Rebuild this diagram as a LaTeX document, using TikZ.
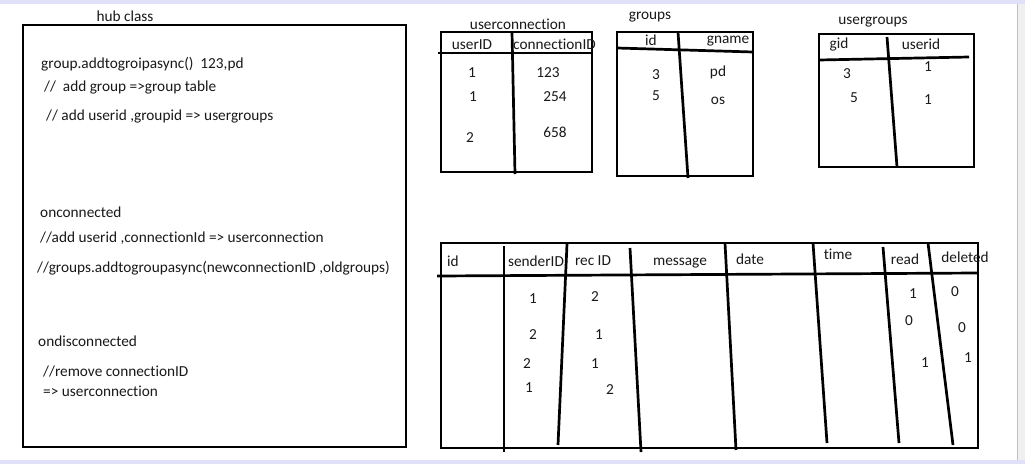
\documentclass[tikz,border=0pt]{standalone}
\usepackage{fontspec}
\setmainfont{Carlito}[Ligatures={NoCommon}]
\begin{document}
\begin{tikzpicture}[x=1pt,y=-1pt,
  txt/.style={font=\fontsize{15.3}{17}\selectfont, inner sep=0pt, anchor=west, text=black!90},
  ctr/.style={font=\fontsize{15.3}{17}\selectfont, inner sep=0pt, anchor=center, text=black!90},
  ln/.style={line width=2.7pt, black},
  frame/.style={fill=black!20!blue!12!white, draw=none}]
\useasboundingbox (0,0) rectangle (1025,464);
\fill[white] (0,0) rectangle (1025,464);
% screenshot frame
\fill[frame] (0,0) rectangle (1025,3.5);
\fill[black!6] (1017,3.5) rectangle (1025,460);
\draw[black!25, line width=1pt] (1017.5,3.5) -- (1017.5,460);
\fill[frame] (0,460) rectangle (1025,464);

% ---------------- hub class ----------------
\node[ctr] (hubt) at (125,16) {hub class};
\draw[ln] (23,25) rectangle (406,447);
\node[txt] (h1) at (41,64) {group.addtogroipasync()\ \ 123,pd};
\node[txt] (h2) at (44,87) {//\ \ add group =>group table};
\node[txt] (h3) at (46,116) {// add userid ,groupid => usergroups};
\node[txt] (h4) at (40,212) {onconnected};
\node[txt] (h5) at (40,238) {//add userid ,connectionId => userconnection};
\node[txt] (h6) at (37,268) {//groups.addtogroupasync(newconnectionID ,oldgroups)};
\node[txt] (h7) at (38,341) {ondisconnected};
\node[txt] (h8) at (43,372) {//remove connectionID};
\node[txt] (h9) at (43,391) {=> userconnection};

% ---------------- userconnection ----------------
\node[ctr] (uct) at (518,24) {userconnection};
\draw[ln] (441,32) rectangle (592,172);
\draw[ln] (438,53) -- (593,53);
\draw[ln] (512,32) -- (515,174);
\node[ctr] (uc1) at (472,45) {userID};
\node[txt] (uc2) at (513,44) {connectionID};
\node[ctr] (ua1) at (472,73) {1};
\node[ctr] (ua2) at (473,97) {1};
\node[ctr] (ua3) at (470,138) {2};
\node[ctr] (ub1) at (548,73) {123};
\node[ctr] (ub2) at (555,97) {254};
\node[ctr] (ub3) at (555,132) {658};

% ---------------- groups ----------------
\node[ctr] (gt) at (650,17) {groups};
\draw[ln] (617,32) rectangle (753,176);
\draw[ln] (617,48) -- (753,52);
\draw[ln] (678,32) -- (688,178);
\node[ctr] (g1) at (651,40) {id};
\node[ctr] (g2) at (728,41) {gname};
\node[ctr] (ga1) at (656,75) {3};
\node[ctr] (ga2) at (656,96) {5};
\node[ctr] (gb1) at (718,72) {pd};
\node[ctr] (gb2) at (718,101) {os};

% ---------------- usergroups ----------------
\node[ctr] (ugt) at (873,22) {usergroups};
\draw[ln] (819,34) rectangle (974,167);
\draw[ln] (819,60) -- (969,57);
\draw[ln] (887,37) -- (897,167);
\node[ctr] (ug1) at (839,44) {gid};
\node[ctr] (ug2) at (921,44) {userid};
\node[ctr] (uga1) at (847,74) {3};
\node[ctr] (uga2) at (854,98) {5};
\node[ctr] (ugb1) at (928,67) {1};
\node[ctr] (ugb2) at (928,100) {1};

% ---------------- messages ----------------
\draw[ln] (441,243) rectangle (978,448);
\draw[ln] (437,276) -- (978,273);
\draw[ln] (504,246) -- (504,452);
\draw[ln] (567,244) -- (558,445);
\draw[ln] (630,248) -- (641,452);
\draw[ln] (725,243) -- (736,450);
\draw[ln] (813,243) -- (827,443);
\draw[ln] (883,247) -- (899,443);
\draw[ln] (928,243) -- (953,445);
\node[ctr] (m1) at (453,261) {id};
\node[ctr] (m2) at (536,261) {senderID};
\node[ctr] (m3) at (593,261) {rec ID};
\node[ctr] (m4) at (680,263) {message};
\node[ctr] (m5) at (750,259) {date};
\node[ctr] (m6) at (838,254) {time};
\node[ctr] (m7) at (905,259) {read};
\node[ctr] (m8) at (965,257) {deleted};
\node[ctr] (s1) at (533,299) {1};
\node[ctr] (s2) at (533,335) {2};
\node[ctr] (s3) at (527,364) {2};
\node[ctr] (s4) at (529,388) {1};
\node[ctr] (r1) at (595,297) {2};
\node[ctr] (r2) at (599,335) {1};
\node[ctr] (r3) at (595,364) {1};
\node[ctr] (r4) at (610,390) {2};
\node[ctr] (rd1) at (913,294) {1};
\node[ctr] (rd2) at (909,321) {0};
\node[ctr] (rd3) at (925,363) {1};
\node[ctr] (d1) at (955,292) {0};
\node[ctr] (d2) at (962,328) {0};
\node[ctr] (d3) at (968,358) {1};
\end{tikzpicture}
\end{document}
